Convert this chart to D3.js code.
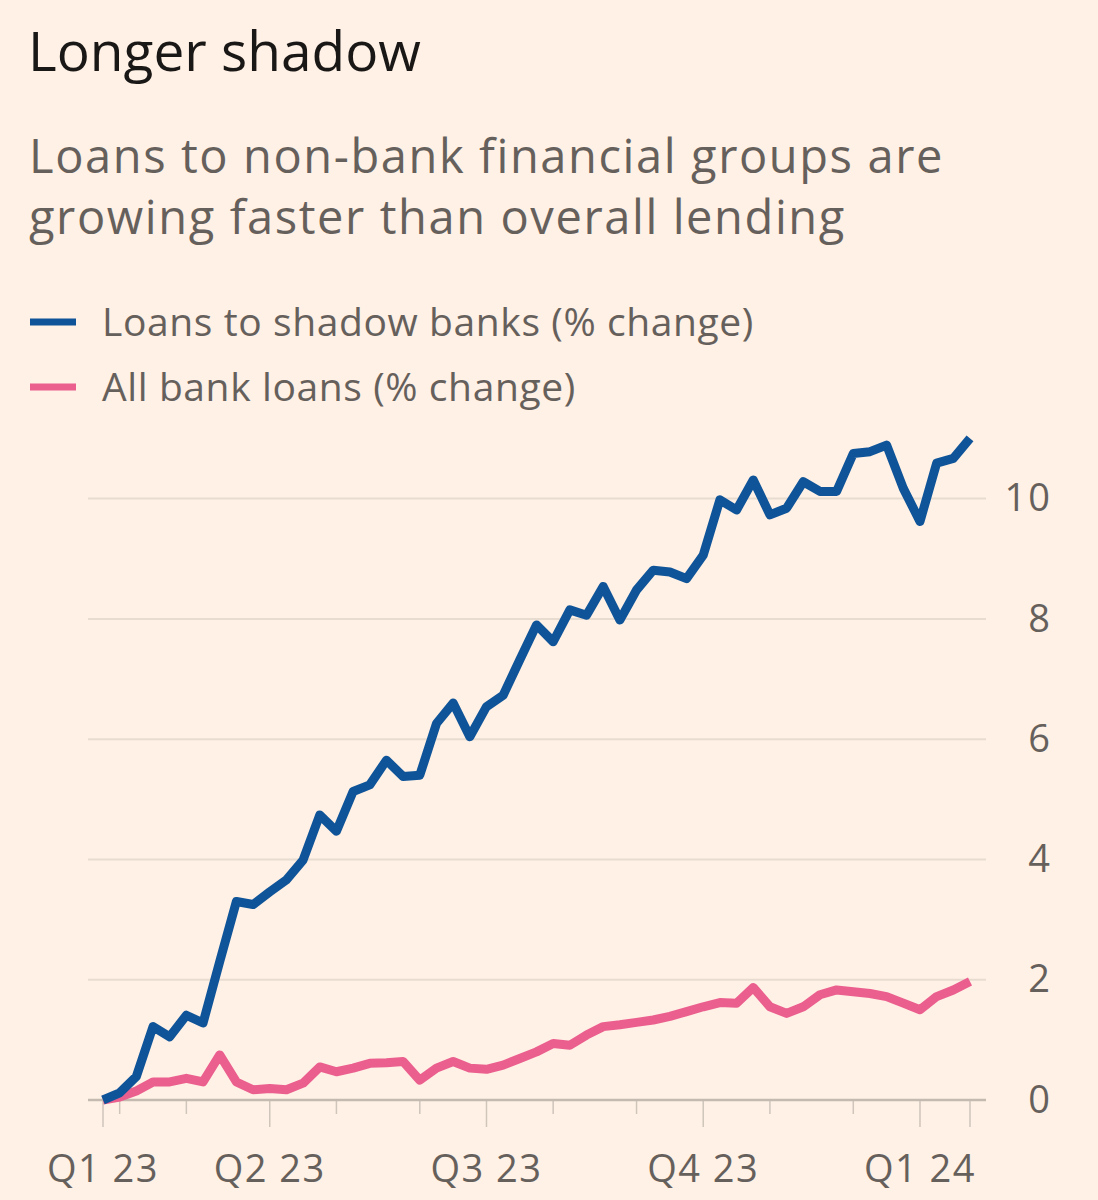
<!DOCTYPE html>
<html>
<head>
<meta charset="utf-8">
<script src="https://cdn.jsdelivr.net/npm/d3@7"></script>
<style>
  html, body { margin: 0; padding: 0; background: #fff1e5; }
  svg { display: block; }
</style>
</head>
<body>
<svg id="chart" width="1098" height="1200"></svg>
<script>
// ---- data ----
const weeks = [
  "2023-01-25","2023-02-01","2023-02-08","2023-02-15","2023-02-22",
  "2023-03-01","2023-03-08","2023-03-15","2023-03-22","2023-03-29",
  "2023-04-05","2023-04-12","2023-04-19","2023-04-26",
  "2023-05-03","2023-05-10","2023-05-17","2023-05-24","2023-05-31",
  "2023-06-07","2023-06-14","2023-06-21","2023-06-28",
  "2023-07-05","2023-07-12","2023-07-19","2023-07-26",
  "2023-08-02","2023-08-09","2023-08-16","2023-08-23","2023-08-30",
  "2023-09-06","2023-09-13","2023-09-20","2023-09-27",
  "2023-10-04","2023-10-11","2023-10-18","2023-10-25",
  "2023-11-01","2023-11-08","2023-11-15","2023-11-22","2023-11-29",
  "2023-12-06","2023-12-13","2023-12-20","2023-12-27",
  "2024-01-03","2024-01-10","2024-01-17","2024-01-24"
];
const shadowBankLoans = [
  0, 0.12, 0.39, 1.22, 1.05, 1.41, 1.28, 2.3, 3.30, 3.25,
  3.46, 3.66, 3.99, 4.74, 4.47, 5.13, 5.24, 5.65, 5.38, 5.40,
  6.26, 6.60, 6.04, 6.54, 6.73, 7.32, 7.90, 7.62, 8.15, 8.06,
  8.54, 7.98, 8.48, 8.81, 8.78, 8.67, 9.06, 9.98, 9.81, 10.31,
  9.73, 9.84, 10.28, 10.12, 10.12, 10.75, 10.78, 10.89, 10.17, 9.62,
  10.59, 10.67, 11.0
];
const allBankLoans = [
  0, 0.05, 0.15, 0.30, 0.30, 0.36, 0.30, 0.75, 0.30, 0.17,
  0.19, 0.17, 0.28, 0.55, 0.47, 0.53, 0.61, 0.62, 0.64, 0.33,
  0.53, 0.64, 0.53, 0.51, 0.58, 0.69, 0.80, 0.94, 0.91, 1.08,
  1.22, 1.25, 1.29, 1.33, 1.39, 1.47, 1.55, 1.62, 1.61, 1.87,
  1.55, 1.44, 1.55, 1.75, 1.83, 1.80, 1.77, 1.72, 1.61, 1.50,
  1.72, 1.83, 1.97
];
const yTicks = [0, 2, 4, 6, 8, 10];
const seriesNames = ["Loans to shadow banks (% change)", "All bank loans (% change)"];
const seriesColors = ["#0f5499", "#eb5f8f"];
const titleText = "Longer shadow";
const subtitleLines = ["Loans to non-bank financial groups are", "growing faster than overall lending"];

// ---- drawing ----
const svg = d3.select("#chart");
const parse = d3.timeParse("%Y-%m-%d");
const dates = weeks.map(parse);

const x = d3.scalePoint().domain(weeks).range([103, 970]);
const y = d3.scaleLinear().domain([0, 10]).range([1100, 498.6]);

svg.append("rect").attr("width", 1098).attr("height", 1200).attr("fill", "#fff1e5");

const font = "'Open Sans', 'Noto Sans', sans-serif";

svg.append("text").attr("x", 28).attr("y", 71)
  .attr("font-family", font).attr("font-size", 55).attr("fill", "#1a1817")
  .text(titleText);

svg.append("g").selectAll("text").data(subtitleLines).join("text")
  .attr("x", 29).attr("y", (d, i) => 173 + i * 61)
  .attr("font-family", font).attr("font-size", 47).attr("letter-spacing", 1.6)
  .attr("fill", "#66605c")
  .text(d => d);

// legend
const leg = svg.append("g");
seriesNames.forEach((name, i) => {
  const cy = 322 + i * 65;
  leg.append("line").attr("x1", 30).attr("x2", 76).attr("y1", cy).attr("y2", cy)
    .attr("stroke", seriesColors[i]).attr("stroke-width", 7);
  leg.append("text").attr("x", 102).attr("y", cy + 14)
    .attr("font-family", font).attr("font-size", 39).attr("letter-spacing", 0.6)
    .attr("fill", "#66605c")
    .text(name);
});

// gridlines
const grid = svg.append("g");
grid.selectAll("line").data(yTicks.filter(d => d !== 0)).join("line")
  .attr("x1", 88).attr("x2", 986)
  .attr("y1", d => y(d)).attr("y2", d => y(d))
  .attr("stroke", "#e8dcd1").attr("stroke-width", 2);

// y axis labels (right)
const yAxis = d3.axisRight(y).tickValues(yTicks).tickSize(0).tickPadding(0).tickFormat(d3.format("d"));
const yg = svg.append("g").attr("transform", "translate(1052,0)").call(yAxis);
yg.select(".domain").remove();
yg.selectAll("text").attr("text-anchor", "end").attr("x", 0)
  .attr("font-family", font).attr("font-size", 38).attr("letter-spacing", 2)
  .attr("fill", "#66605c");

// x axis ticks: first/last point and first week of each month
const tickWeeks = weeks.filter((w, i) => i === 0 || i === weeks.length - 1 ||
  dates[i].getMonth() !== dates[i - 1].getMonth());
const isLong = w => {
  const i = weeks.indexOf(w);
  return i === 0 || i === weeks.length - 1 || dates[i].getMonth() % 3 === 0;
};
const qLabel = w => {
  const d = parse(w);
  return "Q" + (Math.floor(d.getMonth() / 3) + 1) + " " + d3.timeFormat("%y")(d);
};
const labelWeeks = tickWeeks.filter(w => isLong(w) && w !== weeks[weeks.length - 1]);

const xg = svg.append("g");
xg.selectAll("line.tick").data(tickWeeks).join("line").attr("class", "tick")
  .attr("x1", d => x(d)).attr("x2", d => x(d))
  .attr("y1", 1100).attr("y2", d => isLong(d) ? 1127 : 1114)
  .attr("stroke", "#cfc5bb").attr("stroke-width", 1.5);
xg.append("line").attr("x1", 88).attr("x2", 986).attr("y1", 1100).attr("y2", 1100)
  .attr("stroke", "#c4bab0").attr("stroke-width", 2.5);
xg.selectAll("text").data(labelWeeks).join("text")
  .attr("x", d => x(d)).attr("y", 1182).attr("text-anchor", "middle")
  .attr("font-family", font).attr("font-size", 38).attr("letter-spacing", 1.5)
  .attr("fill", "#66605c")
  .text(qLabel);

// lines
const line = d3.line().x((d, i) => x(weeks[i])).y(d => y(d));
[allBankLoans, shadowBankLoans].forEach((s, j) => {
  svg.append("path").datum(s).attr("d", line)
    .attr("fill", "none").attr("stroke", seriesColors[1 - j])
    .attr("stroke-width", 9).attr("stroke-linejoin", "round").attr("stroke-linecap", "butt");
});
</script>
</body>
</html>
